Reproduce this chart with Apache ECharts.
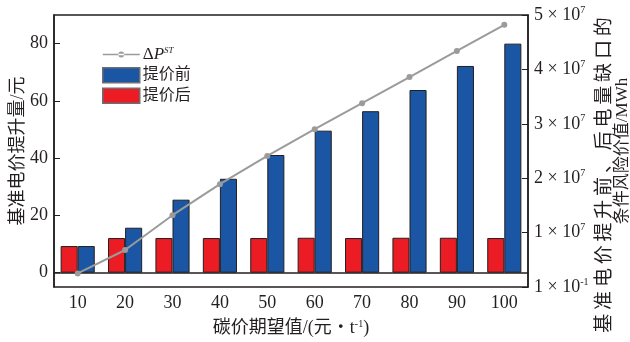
<!DOCTYPE html>
<html>
<head>
<meta charset="utf-8">
<script src="https://cdn.jsdelivr.net/npm/echarts@6/dist/echarts.min.js"></script>
<style>
  html, body { margin: 0; background: #fff; }
  #main { width: 630px; height: 342px; }
</style>
</head>
<body>
<div id="main"></div>
<script>
// 碳价期望值（元/t）
var categories = ['10', '20', '30', '40', '50', '60', '70', '80', '90', '100'];
// 基准电价提升量/元
var afterRaise = [9.3, 12.1, 12.1, 12.1, 12.1, 12.2, 12.1, 12.2, 12.2, 12.1];
var beforeRaise = [9.3, 15.7, 25.5, 32.8, 41.1, 49.6, 56.4, 63.8, 72.2, 80.0];
// ΔP^ST，右轴
var deltaP = [0.25e7, 0.68e7, 1.32e7, 1.89e7, 2.41e7, 2.90e7, 3.38e7, 3.86e7, 4.34e7, 4.82e7];
var leftTicks = [0, 20, 40, 60, 80];

var FONT = "'Liberation Serif', 'Noto Sans CJK SC'";
var INK = '#231f20';
var GREY = '#9b9b9b';

// 图例里折线的图标：细线加小圆点（四角两个极小方块撑开尺寸）
var lineIcon = 'path://M0,0h0.1v0.1h-0.1Z M36.9,14.9h0.1v0.1h-0.1Z M0,6.7H37V8.3H0Z ' +
  'M15.5,7.5a3,3 0 1,0 6,0a3,3 0 1,0 -6,0Z';

// 右轴名第一行字距较宽，用细空格拉开
var rightName1 = '基准电价提升前、后电量缺口的'.split('').join('\u2009');
var rightName2 = '条件风险价值/MWh';

var myChart = echarts.init(document.getElementById('main'));

myChart.setOption({
  animation: false,
  textStyle: { fontFamily: FONT, color: INK },
  grid: {
    left: 54, right: 102, top: 15, bottom: 55,
    outerBoundsMode: 'none',
    containLabel: false,
    show: true, borderColor: INK, borderWidth: 1.5, backgroundColor: 'transparent'
  },
  legend: {
    orient: 'vertical',
    left: 97, top: 41,
    itemWidth: 37, itemHeight: 15, itemGap: 4,
    data: [
      { name: 'dp', icon: lineIcon, itemStyle: { color: GREY, borderWidth: 0 } },
      { name: '提价前', icon: 'rect', itemStyle: { borderColor: '#6d6e71', borderWidth: 1.5 } },
      { name: '提价后', icon: 'rect', itemStyle: { borderColor: '#6d6e71', borderWidth: 1.5 } }
    ],
    formatter: function (name) {
      return name === 'dp' ? '{d|Δ}{p|P}{s|ST}' : name;
    },
    textStyle: {
      fontFamily: FONT, fontSize: 16, color: INK, padding: [0, 0, 0, -2],
      rich: {
        d: { fontFamily: FONT, fontSize: 17, color: INK },
        p: { fontFamily: FONT, fontSize: 17, fontStyle: 'italic', color: INK },
        s: { fontFamily: FONT, fontSize: 9, fontStyle: 'italic', color: INK, verticalAlign: 'top' }
      }
    }
  },
  xAxis: {
    type: 'category',
    data: categories,
    axisLine: { lineStyle: { color: INK, width: 1.5 } },
    axisTick: { show: false },
    axisLabel: { fontFamily: FONT, fontSize: 18, color: INK, margin: 7 },
    name: '{t|碳价期望值/(元・t}{s|-1}{t|)}',
    nameLocation: 'middle',
    nameGap: 32,
    nameTextStyle: {
      rich: {
        t: { fontFamily: FONT, fontSize: 18, color: INK },
        s: { fontFamily: FONT, fontSize: 10, color: INK, verticalAlign: 'top' }
      }
    }
  },
  yAxis: [{
    type: 'value',
    min: -5, max: 90,
    splitLine: { show: false },
    axisLine: { show: true, lineStyle: { color: INK, width: 1.5 } },
    axisTick: { show: true, inside: true, length: 6, customValues: leftTicks, lineStyle: { color: INK } },
    axisLabel: { fontFamily: FONT, fontSize: 18, color: INK, margin: 6, customValues: leftTicks },
    name: '基准电价提升量/元',
    nameLocation: 'middle',
    nameGap: 27,
    nameMoveOverlap: false,
    nameTextStyle: { fontFamily: FONT, fontSize: 18, color: INK }
  }, {
    type: 'value',
    position: 'right',
    min: 0, max: 5e7, interval: 1e7,
    splitLine: { show: false },
    axisLine: { show: true, lineStyle: { color: INK, width: 1.5 } },
    axisTick: { show: true, inside: true, length: 6, lineStyle: { color: INK } },
    axisLabel: {
      margin: 6,
      formatter: function (v) {
        var n = v === 0 ? 1 : Math.round(v / 1e7);
        var e = v === 0 ? '-1' : '7';
        return '{m|' + n + ' × 10}{s|' + e + '}';
      },
      rich: {
        m: { fontFamily: FONT, fontSize: 18, color: INK, lineHeight: 20 },
        s: { fontFamily: FONT, fontSize: 10, color: INK, verticalAlign: 'top' }
      }
    },
    name: '{a|' + rightName1 + '}\n{b|' + rightName2 + '}',
    nameLocation: 'middle',
    nameGap: 68,
    nameMoveOverlap: false,
    nameTextStyle: {
      rich: {
        a: { fontFamily: FONT, fontSize: 19, color: INK, lineHeight: 18, padding: [0, 48, 0, 0] },
        b: { fontFamily: FONT, fontSize: 17, color: INK, lineHeight: 18 }
      }
    }
  }],
  series: [{
    name: '提价后',
    type: 'bar',
    data: afterRaise,
    barGap: '0%',
    barCategoryGap: '28%',
    itemStyle: { color: '#ec1c24', borderColor: INK, borderWidth: 1 }
  }, {
    name: '提价前',
    type: 'bar',
    data: beforeRaise,
    barGap: '0%',
    barCategoryGap: '28%',
    itemStyle: { color: '#1b56a5', borderColor: INK, borderWidth: 1 }
  }, {
    name: 'dp',
    type: 'line',
    yAxisIndex: 1,
    data: deltaP,
    symbol: 'circle',
    symbolSize: 6,
    lineStyle: { color: GREY, width: 2 },
    itemStyle: { color: GREY }
  }]
});
</script>
</body>
</html>
